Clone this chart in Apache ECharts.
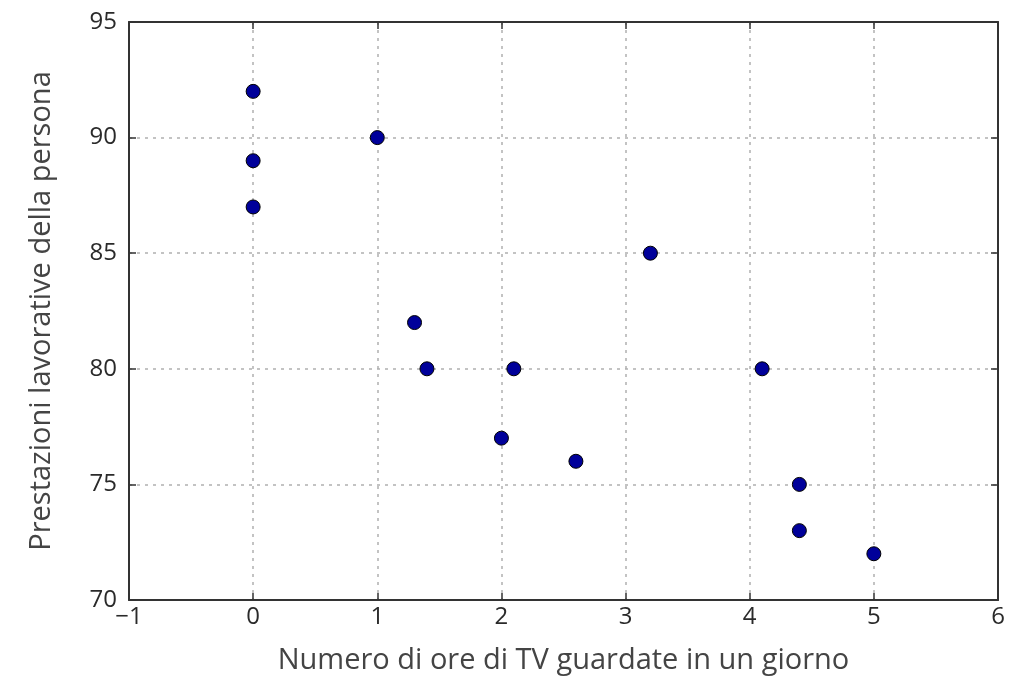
<!DOCTYPE html>
<html><head><meta charset="utf-8">
<script src="https://cdn.jsdelivr.net/npm/echarts@6/dist/echarts.min.js"></script>
<style>html,body{margin:0;padding:0;background:#fff}#c{width:1025px;height:681px}</style>
</head><body><div id="c"></div>
<script>
const hoursTV = [0, 0, 0, 1, 1.3, 1.4, 2.1, 2.0, 2.6, 3.2, 4.1, 4.4, 4.4, 5];
const performance = [92, 89, 87, 90, 82, 80, 80, 77, 76, 85, 80, 75, 73, 72];
const xTicks = [-1, 0, 1, 2, 3, 4, 5, 6];
const yTicks = [70, 75, 80, 85, 90, 95];
const xTitle = 'Numero di ore di TV guardate in un giorno';
const yTitle = 'Prestazioni lavorative della persona';

const chart = echarts.init(document.getElementById('c'));
const tickFont = {fontFamily: 'Open Sans', fontSize: 24, color: '#2a2a2a'};
const axisLine = {show: true, onZero: false, lineStyle: {color: '#333', width: 2}};
const tick = {show: true, inside: true, length: 7, lineStyle: {color: '#333', width: 1.5}};
const grid = {show: true, lineStyle: {color: '#b0b0b0', type: [3, 5], width: 1.5}};
const fmt = v => String(v).replace('-', '\u2212');
const titleFont = {fontFamily: 'Open Sans', fontSize: 29, color: '#444'};
chart.setOption({
  animation: false,
  grid: {left: 129, right: 27, top: 22, bottom: 81, show: false},
  xAxis: [{
    type: 'value', min: xTicks[0], max: xTicks[xTicks.length-1], interval: 1,
    position: 'bottom', axisLine, axisTick: tick, splitLine: grid,
    axisLabel: Object.assign({}, tickFont, {margin: 5, formatter: fmt}),
    name: xTitle, nameLocation: 'middle', nameGap: 46, nameTextStyle: titleFont
  }, {
    type: 'value', min: xTicks[0], max: xTicks[xTicks.length-1], interval: 1,
    position: 'top', axisLine, axisTick: tick, splitLine: {show: false}, axisLabel: {show: false}
  }],
  yAxis: [{
    type: 'value', min: yTicks[0], max: yTicks[yTicks.length-1], interval: 5,
    position: 'left', axisLine, axisTick: tick, splitLine: grid,
    axisLabel: Object.assign({}, tickFont, {margin: 12}),
    name: yTitle, nameLocation: 'middle', nameGap: 73, nameTextStyle: titleFont
  }, {
    type: 'value', min: yTicks[0], max: yTicks[yTicks.length-1], interval: 5,
    position: 'right', axisLine, axisTick: tick, splitLine: {show: false}, axisLabel: {show: false}
  }],
  series: [{
    type: 'scatter', xAxisIndex: 0, yAxisIndex: 0,
    data: hoursTV.map((x, i) => [x, performance[i]]),
    symbolSize: 14,
    itemStyle: {color: '#00009a', borderColor: '#000', borderWidth: 1, opacity: 1}
  }]
});
</script></body></html>
